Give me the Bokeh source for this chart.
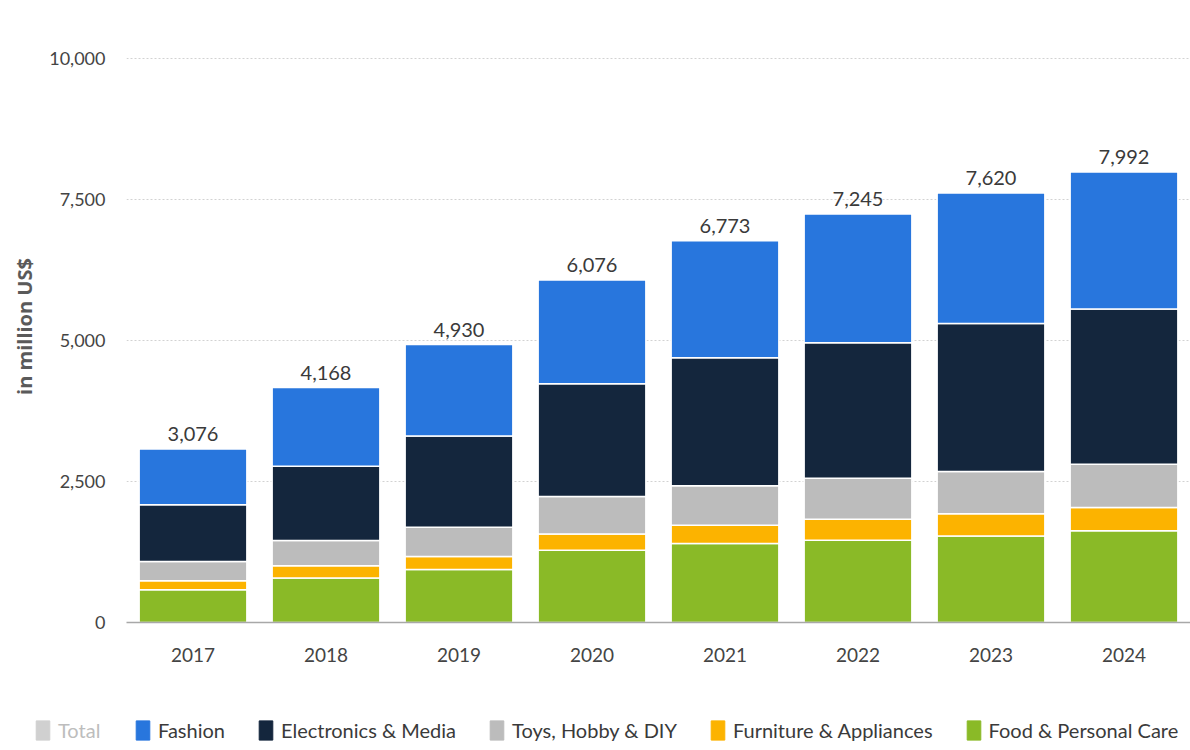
from bokeh.plotting import figure
from bokeh.models import ColumnDataSource, Legend, LegendItem, NumeralTickFormatter, FixedTicker, Range1d
from bokeh.embed import file_html
from bokeh.resources import INLINE

years = ["2017", "2018", "2019", "2020", "2021", "2022", "2023", "2024"]
food = [580, 790, 940, 1280, 1400, 1460, 1535, 1627]
furniture = [160, 215, 230, 290, 325, 370, 393, 411]
toys = [340, 450, 520, 665, 700, 730, 750, 769]
electronics = [1010, 1315, 1620, 2000, 2270, 2400, 2623, 2754]
fashion = [986, 1398, 1620, 1841, 2078, 2285, 2319, 2431]
totals = [3076, 4168, 4930, 6076, 6773, 7245, 7620, 7992]
y_ticks = [0, 2500, 5000, 7500, 10000]

series = ["food", "furniture", "toys", "electronics", "fashion"]
names = ["Food & Personal Care", "Furniture & Appliances", "Toys, Hobby & DIY",
         "Electronics & Media", "Fashion"]
colors = ["#8aba27", "#fcb300", "#bcbcbc", "#14263d", "#2876dd"]
total_color = "#d0d0d0"

FONT = "Lato"

src = ColumnDataSource(dict(year=years, food=food, furniture=furniture, toys=toys,
                            electronics=electronics, fashion=fashion, total=totals,
                            label=[f"{t:,}" for t in totals]))

p = figure(x_range=years, y_range=Range1d(0, 10500), width=1190, height=690,
           output_backend="svg", toolbar_location=None,
           min_border_left=126, min_border_right=0, min_border_top=30, min_border_bottom=68)
p.outline_line_color = None
p.background_fill_color = "white"

# hidden "Total" series (shown greyed in the legend, as in the original)
total_r = p.vbar(x="year", top="total", width=0.81, source=src, color=total_color)
total_r.visible = False

rs = p.vbar_stack(series, x="year", width=0.81, source=src, color=colors,
                  line_color="white", line_width=1.5)

p.text(x="year", y="total", text="label", source=src, text_align="center",
       text_baseline="alphabetic", y_offset=-15, text_font_size="20px",
       text_color="#3a3a3a", text_font={"value": FONT})

p.xgrid.grid_line_color = None
p.ygrid.grid_line_color = "#d2d2d2"
p.ygrid.grid_line_dash = "2 2"
p.ygrid.grid_line_width = 1

p.yaxis.ticker = FixedTicker(ticks=y_ticks)
p.yaxis.formatter = NumeralTickFormatter(format="0,0")
p.yaxis.axis_line_color = None
p.yaxis.major_tick_line_color = None
p.yaxis.minor_tick_line_color = None
p.yaxis.major_tick_out = 0
p.yaxis.major_tick_in = 0
p.yaxis.major_label_text_font_size = "18px"
p.yaxis.major_label_text_color = "#444444"
p.yaxis.major_label_text_font = FONT
p.yaxis.major_label_standoff = 21
p.yaxis.axis_label = "in million US$"
p.yaxis.axis_label_text_font_size = "20px"
p.yaxis.axis_label_text_font_style = "bold"
p.yaxis.axis_label_text_color = "#5a5a5a"
p.yaxis.axis_label_text_font = "Open Sans"
p.yaxis.axis_label_standoff = 8

p.xaxis.axis_line_color = "#a8a8a8"
p.xaxis.axis_line_width = 1.5
p.xaxis.major_tick_line_color = None
p.xaxis.minor_tick_line_color = None
p.xaxis.major_tick_out = 0
p.xaxis.major_tick_in = 0
p.xaxis.major_label_text_font_size = "19px"
p.xaxis.major_label_text_color = "#444444"
p.xaxis.major_label_text_font = FONT
p.xaxis.major_label_standoff = 25

# legend strip below the chart (separate root so its frame starts at the left edge)
lf = figure(width=1190, height=56, x_range=Range1d(0, 1), y_range=Range1d(0, 1),
            output_backend="svg", toolbar_location=None,
            x_axis_location=None, y_axis_location=None,
            min_border_left=0, min_border_right=0, min_border_top=0, min_border_bottom=0)
lf.outline_line_color = None
lf.xgrid.grid_line_color = None
lf.ygrid.grid_line_color = None

# off-range placeholder rows: they only give the legend swatches their colours
off = dict(x=[-10], top=[-10])
lt = lf.vbar(x="x", top="top", width=0.5, source=ColumnDataSource(off), color=total_color)
items = []
for name, c in zip(reversed(names), reversed(colors)):
    r = lf.vbar(x="x", top="top", width=0.5, source=ColumnDataSource(off), color=c)
    items.append(LegendItem(label=name, renderers=[r]))

common = dict(orientation="horizontal", label_text_font_size="20px",
              label_text_font=FONT, glyph_width=17, glyph_height=24,
              label_standoff=7, spacing=32, border_line_color=None,
              background_fill_alpha=0, margin=0, padding=0)

# "Total" is switched off in the original, so its entry is greyed out
legend_total = Legend(items=[LegendItem(label="Total", renderers=[lt])], location=(34, 4),
                      label_text_color="#bdbdbd", **common)
legend_main = Legend(items=items, location=(134, 4), label_text_color="#3a3a3a", **common)
lf.add_layout(legend_total, "center")
lf.add_layout(legend_main, "center")

open("out.html", "w").write(file_html([p, lf], INLINE))
